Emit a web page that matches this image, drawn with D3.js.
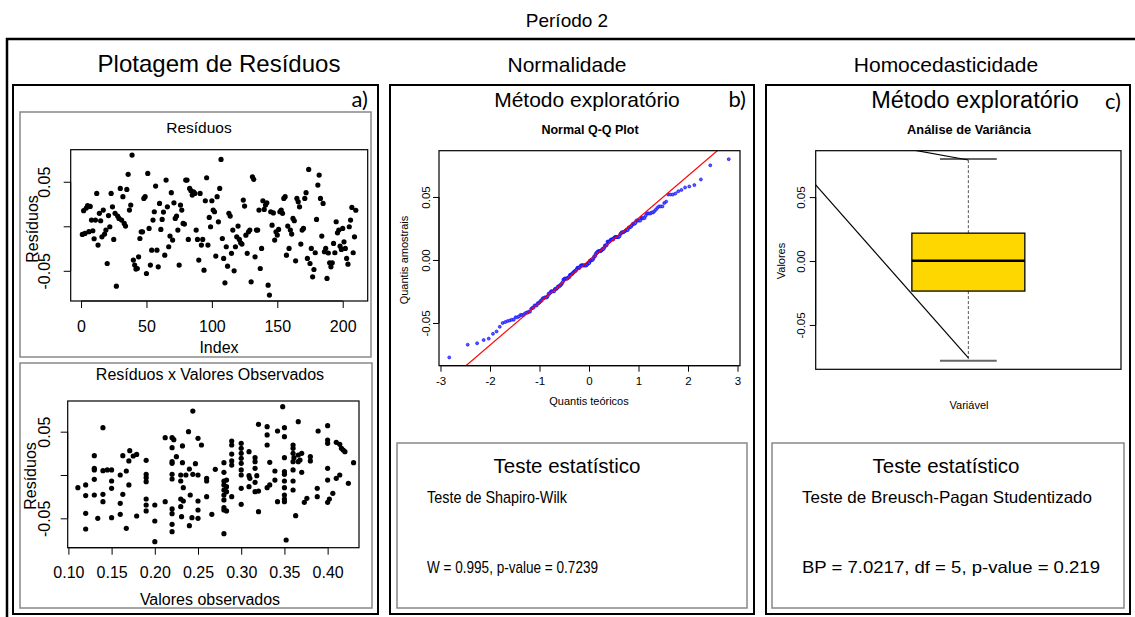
<!DOCTYPE html>
<html><head><meta charset="utf-8">
<script src="https://cdn.jsdelivr.net/npm/d3@7"></script>
<style>body{margin:0;background:#fff}</style>
</head><body><svg id="c" width="1135" height="617"></svg>
<script>
// ---------- DATA ----------
const residuals = [
-0.0091,0.0175,-0.0080,0.0204,0.0231,-0.0061,0.0223,0.0070,-0.0050,-0.0140,
0.0070,0.0369,-0.0211,0.0145,0.0062,-0.0118,0.0182,-0.0088,-0.0043,-0.0418,0.0120,
-0.0005,0.0369,0.0219,-0.0148,0.0145,-0.0672,0.0115,0.0088,0.0425,0.0070,
0.0332,0.0032,0.0002,0.0414,0.0583,0.0182,0.0238,0.0800,-0.0380,-0.0436,-0.0480,
-0.0474,-0.0343,-0.0137,-0.0062,-0.0062,0.0313,0.0332,-0.0530,0.0594,-0.0024,
-0.0436,-0.0268,0.0070,0.0163,0.0452,-0.0268,-0.0455,0.0257,-0.0035,0.0077,0.0160,
-0.0324,0.0519,0.0219,-0.0230,-0.0110,0.0377,-0.0155,0.0264,0.0088,0.0115,
-0.0043,-0.0436,0.0238,0.0182,0.0032,0.0025,0.0519,0.0519,-0.0148,0.0425,0.0400,
0.0351,0.0388,0.0369,-0.0043,-0.0148,-0.0380,0.0369,-0.0211,-0.0148,-0.0493,
0.0287,0.0545,-0.0211,0.0100,-0.0005,0.0287,0.0182,0.0163,-0.0335,0.0332,0.0050,
0.0425,0.0751,-0.0137,-0.0361,-0.0635,-0.0230,-0.0448,0.0145,0.0115,-0.0305,
-0.0043,-0.0500,-0.0230,-0.0118,0.0002,-0.0148,-0.0185,-0.0200,0.0294,0.0227,-0.0100,
-0.0305,-0.0062,-0.0043,-0.0624,0.0556,0.0527,-0.0343,-0.0043,-0.0043,0.0182,
-0.0474,-0.0249,0.0287,0.0189,0.0238,0.0264,-0.0661,-0.0773,0.0163,0.0013,0.0150,
-0.0155,-0.0062,-0.0099,-0.0035,0.0163,0.0182,0.0145,0.0313,0.0332,-0.0324,
0.0002,-0.0249,-0.0043,-0.0088,0.0088,0.0062,-0.0388,0.0313,0.0275,0.0219,-0.0200,
-0.0043,-0.0024,0.0313,0.0377,-0.0361,0.0639,-0.0418,-0.0249,-0.0567,-0.0485,
-0.0297,0.0077,0.0463,0.0575,0.0313,-0.0110,0.0257,-0.0286,-0.0249,-0.0586,-0.0300,
-0.0410,-0.0455,-0.0410,-0.0193,-0.0297,0.0051,-0.0073,-0.0043,-0.0223,-0.0260,
-0.0024,-0.0174,-0.0249,-0.0361,-0.0425,-0.0005,0.0070,0.0212,-0.0297,-0.0118,0.0180
];
const observedPairs = [
[0.111,-0.0146],[0.12,-0.0115],[0.12,-0.0238],[0.12,-0.0442],[0.12,-0.0623],[0.13,0.0223],[0.13,0.0077],[0.13,0.0058],[0.13,-0.0050],[0.13,-0.0231],
[0.134,-0.0500],[0.14,0.0050],[0.14,-0.0223],[0.14,-0.0308],[0.14,0.0546],[0.145,0.0058],[0.15,0.0058],[0.15,-0.0069],[0.15,-0.0154],[0.15,-0.0492],
[0.16,0.0000],[0.16,-0.0327],[0.16,-0.0454],[0.163,0.0223],[0.163,-0.0223],[0.167,0.0046],[0.167,-0.0615],[0.17,0.0162],[0.17,-0.0115],[0.171,0.0281],
[0.175,0.0219],[0.179,-0.0473],[0.179,0.0238],[0.19,0.0169],[0.19,0.0008],[0.19,-0.0031],[0.19,-0.0077],[0.19,-0.0277],[0.19,-0.0346],[0.19,-0.0415],
[0.20,-0.0346],[0.20,-0.0531],[0.20,-0.0769],[0.212,0.0431],[0.212,-0.0308],[0.22,0.0431],[0.22,0.0315],[0.22,0.0154],[0.22,0.0135],[0.22,0.0008],
[0.22,-0.0046],[0.22,-0.0392],[0.22,-0.0446],[0.22,-0.0569],[0.22,-0.0654],[0.222,0.0408],[0.225,0.0212],[0.23,0.0000],[0.23,-0.0069],[0.23,-0.0277],
[0.23,-0.0365],[0.231,-0.0481],[0.232,0.0335],[0.232,0.0142],[0.233,-0.0146],[0.233,-0.0300],[0.236,0.0000],[0.239,0.0500],[0.24,0.0069],[0.24,-0.0585],
[0.241,-0.0231],[0.243,-0.0492],[0.244,0.0738],[0.244,0.0008],[0.247,0.0131],[0.25,0.0423],[0.25,0.0000],[0.25,-0.0300],[0.25,-0.0404],[0.25,-0.0500],
[0.254,0.0346],[0.26,-0.0038],[0.26,-0.0069],[0.26,-0.0250],[0.266,-0.0454],[0.27,0.0065],[0.28,0.0142],[0.28,0.0031],[0.28,-0.0069],[0.28,-0.0115],
[0.28,-0.0173],[0.28,-0.0231],[0.28,-0.0288],[0.28,-0.0377],[0.28,-0.0404],[0.28,-0.0677],[0.283,-0.0058],[0.283,-0.0135],[0.283,-0.0192],[0.283,-0.0415],
[0.289,0.0392],[0.289,0.0346],[0.289,0.0242],[0.289,0.0162],[0.289,0.0115],[0.289,-0.0250],[0.30,0.0365],[0.30,0.0308],[0.30,0.0250],[0.30,0.0192],
[0.30,0.0135],[0.30,0.0058],[0.30,0.0000],[0.30,-0.0154],[0.30,-0.0338],[0.309,0.0269],[0.309,-0.0008],[0.309,-0.0135],[0.310,-0.0038],[0.316,0.0200],
[0.316,0.0154],[0.316,0.0077],[0.316,-0.0085],[0.316,-0.0192],[0.318,-0.0008],[0.32,-0.0423],[0.32,-0.0185],[0.32,0.0585],[0.33,0.0558],[0.33,0.0462],
[0.33,0.0346],[0.33,-0.0146],[0.333,0.0146],[0.333,-0.0115],[0.339,0.0046],[0.339,-0.0058],[0.342,0.0508],[0.342,-0.0308],[0.348,0.0788],[0.35,0.0546],
[0.35,0.0442],[0.35,0.0200],[0.35,0.0038],[0.35,0.0008],[0.35,-0.0069],[0.35,-0.0146],[0.35,-0.0231],[0.35,-0.0277],[0.35,-0.0308],[0.352,-0.0750],
[0.36,0.0346],[0.36,0.0308],[0.36,0.0250],[0.36,0.0154],[0.36,0.0058],[0.36,-0.0069],[0.36,-0.0173],[0.361,0.0200],[0.363,-0.0469],[0.366,0.0615],
[0.366,0.0231],[0.366,0.0154],[0.368,0.0173],[0.37,0.0250],[0.37,0.0031],[0.373,-0.0315],[0.376,-0.0269],[0.38,0.0212],[0.38,0.0162],[0.388,-0.0154],
[0.388,-0.0250],[0.389,0.0508],[0.40,0.0569],[0.40,0.0404],[0.40,0.0365],[0.40,0.0077],[0.40,-0.0058],[0.40,-0.0315],[0.402,-0.0277],[0.406,-0.0212],
[0.41,0.0377],[0.41,-0.0038],[0.414,0.0354],[0.414,0.0000],[0.416,0.0308],[0.418,0.0288],[0.42,0.0269],[0.424,-0.0096],[0.43,0.0142]
];
const boxStats = [-0.0780, -0.0235, 0.0002, 0.0218, 0.0798]; // min, Q1, median, Q3, max
const qqLine = [-0.0004, 0.0336]; // intercept, slope
const boxGuideLines = [[[0.40, 0.0865], [1.0, -0.0757]], [[0.70, 0.0920], [1.0, 0.0790]]];
const indexTicks = [0, 50, 100, 150, 200];
const residTicks = [-0.05, 0, 0.05];
const residTickLabelsA = ["-0.05", "", "0.05"];
const residTickLabelsB = ["-0.05", "0.00", "0.05"];
const obsTicks = [0.10, 0.15, 0.20, 0.25, 0.30, 0.35, 0.40];
const qqTicks = [-3, -2, -1, 0, 1, 2, 3];

// ---------- HELPERS ----------
const F = "'Liberation Sans', Arial, Helvetica, sans-serif";
const svg = d3.select('#c');
svg.append('rect').attr('width', 1135).attr('height', 617).attr('fill', '#fff');

function txt(t, x, y, size, opts = {}) {
  const e = svg.append('text').attr('x', x).attr('y', y).text(t)
    .attr('font-family', opts.family || F).attr('font-size', size)
    .attr('text-anchor', opts.anchor || 'middle').attr('fill', opts.fill || '#000');
  if (opts.bold) e.attr('font-weight', 'bold');
  if (opts.len) e.attr('textLength', opts.len).attr('lengthAdjust', 'spacingAndGlyphs');
  if (opts.rotate) e.attr('transform', `rotate(-90,${x},${y})`);
  return e;
}
function rect(x0, y0, x1, y1, stroke, sw) {
  svg.append('rect').attr('x', x0).attr('y', y0).attr('width', x1 - x0).attr('height', y1 - y0)
    .attr('fill', 'none').attr('stroke', stroke).attr('stroke-width', sw);
}
let clipN = 0;
function plotArea(cfg) {
  const x = d3.scaleLinear().domain(cfg.xd).range([cfg.f[0], cfg.f[1]]);
  const y = d3.scaleLinear().domain(cfg.yd).range([cfg.f[3], cfg.f[2]]);
  const id = 'clip' + (clipN++);
  svg.append('clipPath').attr('id', id).append('rect')
    .attr('x', cfg.f[0]).attr('y', cfg.f[2]).attr('width', cfg.f[1] - cfg.f[0]).attr('height', cfg.f[3] - cfg.f[2]);
  const g = svg.append('g').attr('clip-path', `url(#${id})`);
  if (cfg.xt) {
    const ax = svg.append('g').attr('transform', `translate(0,${cfg.f[3]})`)
      .call(d3.axisBottom(x).tickValues(cfg.xt).tickSize(cfg.tl).tickSizeOuter(0)
        .tickFormat((d, i) => cfg.xl ? cfg.xl[i] : d));
    ax.select('.domain').remove();
    ax.append('line').attr('x1', x(cfg.xt[0])).attr('x2', x(cfg.xt[cfg.xt.length - 1]))
      .attr('stroke', '#000');
    ax.selectAll('.tick text').attr('y', cfg.xlb - cfg.f[3]).attr('dy', null)
      .attr('font-size', cfg.fs).attr('font-family', F).attr('fill', '#000');
    ax.selectAll('.tick line').attr('stroke', '#000');
  }
  if (cfg.yt) {
    const ay = svg.append('g').attr('transform', `translate(${cfg.f[0]},0)`)
      .call(d3.axisLeft(y).tickValues(cfg.yt).tickSize(cfg.tl).tickSizeOuter(0)
        .tickFormat((d, i) => cfg.yl[i]));
    ay.select('.domain').remove();
    ay.append('line').attr('y1', y(cfg.yt[0])).attr('y2', y(cfg.yt[cfg.yt.length - 1]))
      .attr('stroke', '#000');
    ay.selectAll('.tick text').attr('x', 0).attr('dy', null)
      .attr('transform', `translate(${cfg.ylb - cfg.f[0]},0) rotate(-90)`)
      .attr('text-anchor', 'middle')
      .attr('font-size', cfg.fs).attr('font-family', F).attr('fill', '#000');
    ay.selectAll('.tick line').attr('stroke', '#000');
  }
  rect(cfg.f[0], cfg.f[2], cfg.f[1], cfg.f[3], '#000', 1.2);
  return { x, y, g };
}

// ---------- LAYOUT ----------
txt('Período 2', 567, 27, 19);
svg.append('rect').attr('x', 7).attr('y', 39).attr('width', 1140).attr('height', 600)
  .attr('fill', 'none').attr('stroke', '#000').attr('stroke-width', 2.5);
txt('Plotagem de Resíduos', 219, 72, 24);
txt('Normalidade', 567, 72, 21);
txt('Homocedasticidade', 946, 72, 21);

rect(13, 85, 378, 614, '#000', 2);
rect(390, 85, 754, 614, '#000', 2);
rect(766, 85, 1130, 614, '#000', 2);

const LF = "Lato, 'Open Sans', sans-serif";
txt('a)', 368, 107, 22, { anchor: 'end', family: LF });
txt('b)', 746, 107, 22, { anchor: 'end', family: LF });
txt('c)', 1121, 109, 22, { anchor: 'end', family: LF });

// ---------- PANEL A TOP ----------
rect(20, 112, 371, 357, '#888', 1.5);
txt('Resíduos', 199, 133, 15.5);
{
  const p = plotArea({ f: [70.7, 367.7, 149.7, 301], xd: [-7.9, 219.1], yd: [-0.0839, 0.0860],
    xt: indexTicks, yt: residTicks, yl: residTickLabelsA, tl: 7, fs: 16, xlb: 332, ylb: 50 });
  p.g.selectAll('circle').data(residuals).join('circle')
    .attr('cx', (d, i) => p.x(i + 1)).attr('cy', d => p.y(d)).attr('r', 2.6).attr('fill', '#000');
  txt('Index', 219, 353, 16);
  txt('Resíduos', 38, 229, 16, { rotate: true });
}

// ---------- PANEL A BOTTOM ----------
rect(20, 363, 372, 608, '#888', 1.5);
txt('Resíduos x Valores Observados', 210, 380, 16);
{
  const p = plotArea({ f: [67.7, 359, 401, 547.7], xd: [0.0992, 0.4363], yd: [-0.0839, 0.0854],
    xt: obsTicks, xl: obsTicks.map(d => d.toFixed(2)), yt: residTicks, yl: residTickLabelsA, tl: 7, fs: 16, xlb: 578.5, ylb: 50 });
  p.g.selectAll('circle').data(observedPairs).join('circle')
    .attr('cx', d => p.x(d[0])).attr('cy', d => p.y(d[1])).attr('r', 2.6).attr('fill', '#000');
  txt('Valores observados', 210, 605, 16);
  txt('Resíduos', 36, 476, 16, { rotate: true });
}

// ---------- PANEL B ----------
txt('Método exploratório', 587, 106.5, 21);
txt('Normal Q-Q Plot', 590, 134, 12.5, { bold: true });
{
  const n = residuals.length;
  const sorted = residuals.slice().sort(d3.ascending);
  function qnorm(p) {
    const a = [-3.969683028665376e+01, 2.209460984245205e+02, -2.759285104469687e+02, 1.383577518672690e+02, -3.066479806614716e+01, 2.506628277459239e+00];
    const b = [-5.447609879822406e+01, 1.615858368580409e+02, -1.556989798598866e+02, 6.680131188771972e+01, -1.328068155288572e+01];
    const c = [-7.784894002430293e-03, -3.223964580411365e-01, -2.400758277161838e+00, -2.549732539343734e+00, 4.374664141464968e+00, 2.938163982698783e+00];
    const d = [7.784695709041462e-03, 3.224671290700398e-01, 2.445134137142996e+00, 3.754408661907416e+00];
    const pl = 0.02425; let q, r;
    if (p < pl) { q = Math.sqrt(-2 * Math.log(p)); return (((((c[0] * q + c[1]) * q + c[2]) * q + c[3]) * q + c[4]) * q + c[5]) / ((((d[0] * q + d[1]) * q + d[2]) * q + d[3]) * q + 1); }
    if (p > 1 - pl) { q = Math.sqrt(-2 * Math.log(1 - p)); return -(((((c[0] * q + c[1]) * q + c[2]) * q + c[3]) * q + c[4]) * q + c[5]) / ((((d[0] * q + d[1]) * q + d[2]) * q + d[3]) * q + 1); }
    q = p - 0.5; r = q * q;
    return (((((a[0] * r + a[1]) * r + a[2]) * r + a[3]) * r + a[4]) * r + a[5]) * q / (((((b[0] * r + b[1]) * r + b[2]) * r + b[3]) * r + b[4]) * r + 1);
  }
  const qq = sorted.map((v, i) => [qnorm((i + 0.5) / n), v]);
  const p = plotArea({ f: [439, 740, 150.7, 365.7], xd: [-3.03, 3.05], yd: [-0.0839, 0.0867],
    xt: qqTicks, yt: residTicks, yl: residTickLabelsB, tl: 6, fs: 11.5, xlb: 385, ylb: 429.5 });
  p.g.selectAll('circle').data(qq).join('circle')
    .attr('cx', d => p.x(d[0])).attr('cy', d => p.y(d[1])).attr('r', 1.5)
    .attr('fill', '#5a5aff').attr('stroke', '#0000ff').attr('stroke-width', 0.6);
  p.g.append('line').attr('x1', p.x(-4)).attr('y1', p.y(qqLine[0] - 4 * qqLine[1]))
    .attr('x2', p.x(4)).attr('y2', p.y(qqLine[0] + 4 * qqLine[1]))
    .attr('stroke', '#ff0000').attr('stroke-width', 1.2);
  txt('Quantis teóricos', 589, 405, 11);
  txt('Quantis amostrais', 408, 260, 11, { rotate: true });
}
rect(397, 443, 747, 608, '#888', 1.5);
txt('Teste estatístico', 567, 473, 20.5);
txt('Teste de Shapiro-Wilk', 427, 503, 17, { anchor: 'start', len: 140 });
txt('W = 0.995, p-value = 0.7239', 427, 573, 17, { anchor: 'start', len: 171 });

// ---------- PANEL C ----------
txt('Método exploratório', 975, 108, 23.5);
txt('Análise de Variância', 969, 134, 12.8, { bold: true });
{
  const p = plotArea({ f: [815.7, 1121, 150.7, 369.3], xd: [0.5, 1.5], yd: [-0.0847, 0.0863],
    yt: residTicks, yl: residTickLabelsB, tl: 6, fs: 11.5, ylb: 805 });
  const [mn, q1, md, q3, mx] = boxStats;
  const cx = 1, hw = 0.185, cw = 0.093;
  svg.append('line').attr('x1', p.x(cx)).attr('x2', p.x(cx)).attr('y1', p.y(q3)).attr('y2', p.y(mx))
    .attr('stroke', '#555').attr('stroke-dasharray', '3,2');
  svg.append('line').attr('x1', p.x(cx)).attr('x2', p.x(cx)).attr('y1', p.y(q1)).attr('y2', p.y(mn))
    .attr('stroke', '#555').attr('stroke-dasharray', '3,2');
  [mn, mx].forEach(v => svg.append('line').attr('x1', p.x(cx - cw)).attr('x2', p.x(cx + cw))
    .attr('y1', p.y(v)).attr('y2', p.y(v)).attr('stroke', '#666').attr('stroke-width', 2));
  svg.append('rect').attr('x', p.x(cx - hw)).attr('y', p.y(q3)).attr('width', p.x(cx + hw) - p.x(cx - hw))
    .attr('height', p.y(q1) - p.y(q3)).attr('fill', '#FFD700').attr('stroke', '#000').attr('stroke-width', 1.3);
  svg.append('line').attr('x1', p.x(cx - hw)).attr('x2', p.x(cx + hw)).attr('y1', p.y(md)).attr('y2', p.y(md))
    .attr('stroke', '#000').attr('stroke-width', 2.5);
  const gl = svg.append('g').attr('clip-path', `url(#clip${clipN - 1})`);
  boxGuideLines.forEach(l => gl.append('line').attr('x1', p.x(l[0][0])).attr('y1', p.y(l[0][1]))
    .attr('x2', p.x(l[1][0])).attr('y2', p.y(l[1][1])).attr('stroke', '#000').attr('stroke-width', 1.2));
  txt('Variável', 969, 409, 11);
  txt('Valores', 785, 261, 11, { rotate: true });
}
rect(772, 443, 1124, 608, '#888', 1.5);
txt('Teste estatístico', 946, 473, 20.5);
txt('Teste de Breusch-Pagan Studentizado', 802, 503, 16.5, { anchor: 'start', len: 290 });
txt('BP = 7.0217, df = 5, p-value = 0.219', 802, 573, 16.5, { anchor: 'start', len: 298 });
</script></body></html>
